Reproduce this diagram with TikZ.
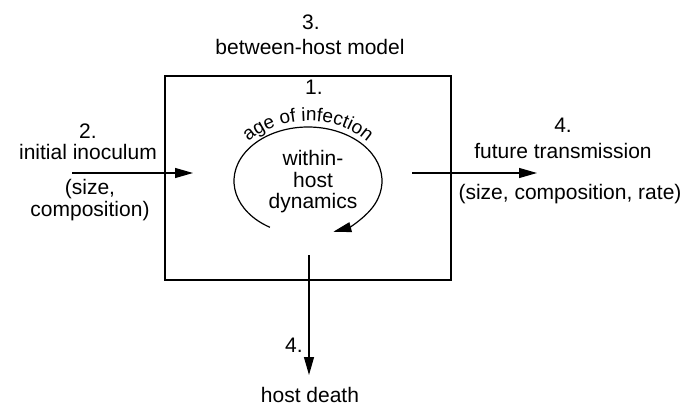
\documentclass[tikz,border=0pt]{standalone}
\usepackage{fontspec}
\setmainfont{Liberation Sans}
\usetikzlibrary{arrows.meta,decorations.text}

\begin{document}
\begin{tikzpicture}[
  x=1pt, y=1pt,
  every node/.style={font=\fontsize{21}{21.5}\selectfont, align=center, inner sep=0pt},
  label/.style={anchor=base},
  flow/.style={line width=1.2pt, -{Triangle[length=18pt,width=10pt]}}
]
  \useasboundingbox (0,0) rectangle (696,405);

  % Host box
  \node[draw, line width=1.2pt, minimum width=286pt, minimum height=204pt] (host) at (308,227) {};

  % Top labels
  \node[label] (m3) at (311,375) {3.};
  \node[label] (model) at (310,350) {between-host model};
  \node[label] (m1) at (314,310) {1.};

  % Inside the box
  \node (dyn) at (313,223) {within-\\host\\dynamics};
  \coordinate (cyc) at (308,224);
  \draw[flow] (cyc) ++(239:74 and 54) arc[start angle=239, end angle=-70, x radius=74, y radius=54];
  \path[decorate, decoration={text along path, text align=center,
      text={|\fontsize{19}{19}\selectfont|age of infection}}]
    (cyc) ++(170:78 and 60) arc[start angle=170, end angle=10, x radius=78, y radius=60];

  % Left side
  \node[label] (m2) at (88,266) {2.};
  \node[label] (inoc) at (88,245) {initial inoculum};
  \node (inocsize) at (90,205) {(size,\\composition)};
  \coordinate (inA) at (72,232);
  \coordinate (inB) at (193,232);

  % Right side
  \node[label] (m4) at (563,272) {4.};
  \node[label] (trans) at (563,247) {future transmission};
  \node[label] (transsize) at (570,206) {(size, composition, rate)};
  \coordinate (outA) at (412,232);
  \coordinate (outB) at (537,232);

  % Bottom
  \node[label] (m4b) at (294,53) {4.};
  \node[label] (death) at (310,3) {host death};
  \coordinate (deathA) at (309,150);
  \coordinate (deathB) at (309,30);

  % Arrows
  \draw[flow] (inA) -- (inB);
  \draw[flow] (outA) -- (outB);
  \draw[flow] (deathA) -- (deathB);
\end{tikzpicture}
\end{document}
